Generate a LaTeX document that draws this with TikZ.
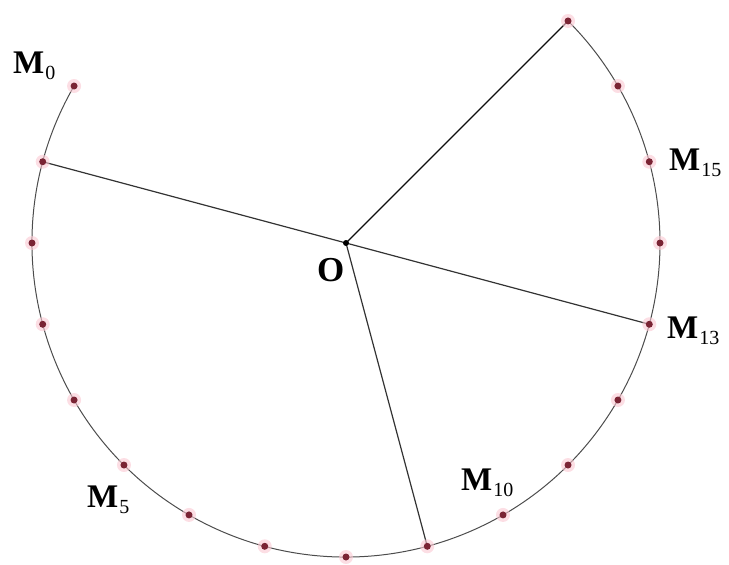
\documentclass[tikz,border=0pt]{standalone}
\usepackage{fontspec}
\setmainfont{Liberation Serif}
\usetikzlibrary{calc}
\definecolor{dotred}{RGB}{122,36,52}
\definecolor{halopink}{RGB}{250,200,210}
\newcommand{\lab}[2]{\textbf{#1}\kern1pt\raisebox{-6pt}{\fontsize{20}{22}\selectfont #2}}
\begin{document}
\begin{tikzpicture}[x=1pt,y=1pt,
  arcline/.style={draw=black!70,line width=1.0pt},
  radline/.style={draw=black!80,line width=1.2pt},
  ptdot/.style={circle,fill=dotred,inner sep=0pt,minimum size=7pt},
  halo/.style={circle,fill=halopink,fill opacity=0.6,inner sep=0pt,minimum size=14pt},
  lbl/.style={font=\fontsize{33}{36}\selectfont,inner sep=0pt,anchor=base west}]
\useasboundingbox (0,0) rectangle (729,-565);
\coordinate (O) at (346,-243);
\foreach \k in {0,...,17} {
  \pgfmathsetmacro{\ang}{150+15*\k}
  \coordinate (M\k) at ($(O)+(\ang:314)$);
}
\draw[arcline] (M0) arc (150:405:314);
\draw[radline] (O) -- (M1);
\draw[radline] (O) -- (M9);
\draw[radline] (O) -- (M13);
\draw[radline,draw=black!95,line width=1.4pt] (O) -- (M17);
\foreach \k in {0,...,17} {
  \node[halo] (H\k) at (M\k) {};
  \node[ptdot] (P\k) at (M\k) {};
}
\node[circle,fill=black,inner sep=0pt,minimum size=6pt] (Oc) at (O) {};
\node[lbl,font=\fontsize{35}{38}\selectfont\bfseries] (lO) at (317,-281) {O};
\node[lbl] (l0) at (13,-73) {\lab{M}{0}};
\node[lbl] (l15) at (669,-170) {\lab{M}{15}};
\node[lbl] (l13) at (667,-338) {\lab{M}{13}};
\node[lbl] (l10) at (461,-490) {\lab{M}{10}};
\node[lbl] (l5) at (87,-507) {\lab{M}{5}};
\end{tikzpicture}
\end{document}
